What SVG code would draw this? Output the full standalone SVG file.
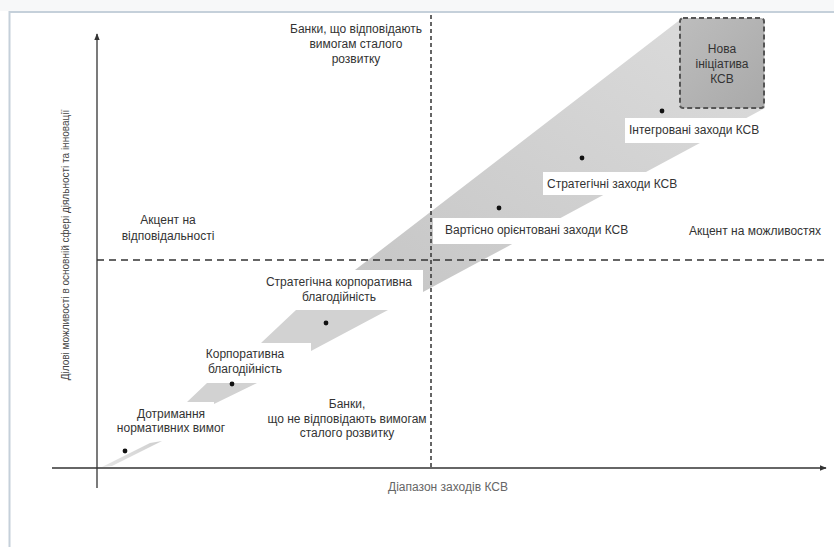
<svg xmlns="http://www.w3.org/2000/svg" width="834" height="547" viewBox="0 0 834 547">
<defs>
<style>
text{font-family:"Liberation Sans",Arial,sans-serif;fill:#333;font-size:12px}
.c{text-anchor:middle}
.ax{stroke:#333;stroke-width:1.3;fill:none}
.dash{stroke:#333;stroke-width:1.5;fill:none}
.shape{fill:#d2d2d2}
.lbl{fill:#fff}
.dot{fill:#111}
</style>
<linearGradient id="band" x1="0" y1="1" x2="1" y2="0">
<stop offset="0" stop-color="#c6c6c6"/>
<stop offset="1" stop-color="#dcdcdc"/>
</linearGradient>
<linearGradient id="boxg" x1="0" y1="0" x2="1" y2="1">
<stop offset="0" stop-color="#bdbdbd"/>
<stop offset="1" stop-color="#a9a9a9"/>
</linearGradient>
<linearGradient id="sliver" x1="0" y1="1" x2="1" y2="0">
<stop offset="0" stop-color="#e6e6e6"/>
<stop offset="1" stop-color="#cfcfcf"/>
</linearGradient>
<marker id="arr" viewBox="0 0 10 10" refX="9" refY="5" markerWidth="7" markerHeight="7" orient="auto" markerUnits="userSpaceOnUse">
<path d="M0,1 L10,5 L0,9 Z" fill="#333"/>
</marker>
</defs>
<rect width="834" height="547" fill="#fff"/>
<rect x="0" y="0" width="834" height="11" fill="#f7f8f9"/>
<path d="M834,12 H9.5 V547" fill="none" stroke="#c5d0da" stroke-width="2"/>

<g id="shapes">
<polygon id="band-main" fill="url(#band)" points="355,270 681,19 765,19 765,108 423,292 423,270"/>
<polygon id="shape-strategic-philanthropy" class="shape" points="296,310 388,310 311,351 311,343 261,343"/>
<polygon id="shape-corporate-philanthropy" class="shape" points="207,383 257,383 214,404 214,402 187,402"/>
<polygon id="shape-compliance" fill="url(#sliver)" points="102,467 150,443 162,441 112,466"/>
</g>

<g id="connectors">
<line class="ax" x1="97" y1="488" x2="97" y2="34" marker-end="url(#arr)"/>
<line class="ax" x1="52" y1="468" x2="826" y2="468" marker-end="url(#arr)"/>
<line class="dash" x1="431" y1="15" x2="431" y2="469" stroke-dasharray="4,3"/>
<line class="dash" x1="97" y1="260" x2="824" y2="260" stroke-dasharray="7,5"/>
</g>

<g id="node-new-initiative">
<rect x="680" y="18" width="84" height="90" rx="3" fill="url(#boxg)" stroke="#555" stroke-width="2" stroke-dasharray="5,3"/>
<text class="c" x="722" y="53">Нова</text>
<text class="c" x="722" y="68">ініціатива</text>
<text class="c" x="722" y="83">КСВ</text>
</g>

<g id="node-integrated">
<rect class="lbl" x="625" y="118" width="145" height="25"/>
<circle class="dot" cx="662" cy="111" r="2.4"/>
<text x="629" y="134">Інтегровані заходи КСВ</text>
</g>

<g id="node-strategic">
<rect class="lbl" x="543" y="172" width="146" height="23"/>
<circle class="dot" cx="582" cy="158" r="2.4"/>
<text x="547" y="188">Стратегічні заходи КСВ</text>
</g>

<g id="node-value">
<rect class="lbl" x="433" y="218" width="211" height="26"/>
<circle class="dot" cx="499" cy="208" r="2.4"/>
<text x="445" y="234">Вартісно орієнтовані заходи КСВ</text>
</g>

<g id="node-strategic-philanthropy">
<circle class="dot" cx="326" cy="323" r="2.4"/>
<text class="c" x="339" y="286">Стратегічна корпоративна</text>
<text class="c" x="339" y="301">благодійність</text>
</g>

<g id="node-corporate-philanthropy">
<circle class="dot" cx="232" cy="384" r="2.4"/>
<text class="c" x="245" y="358">Корпоративна</text>
<text class="c" x="245" y="373">благодійність</text>
</g>

<g id="node-compliance">
<circle class="dot" cx="125" cy="451" r="2.4"/>
<text class="c" x="171" y="418">Дотримання</text>
<text class="c" x="171" y="432">нормативних вимог</text>
</g>

<g id="labels">
<text class="c" x="356" y="33">Банки, що відповідають</text>
<text class="c" x="356" y="48">вимогам сталого</text>
<text class="c" x="356" y="63">розвитку</text>
<text class="c" x="168" y="224">Акцент на</text>
<text class="c" x="168" y="240">відповідальності</text>
<text class="c" x="755" y="235">Акцент на можливостях</text>
<text class="c" x="347" y="408">Банки,</text>
<text class="c" x="347" y="423">що не відповідають вимогам</text>
<text class="c" x="347" y="437">сталого розвитку</text>
<text class="c" x="448" y="491" style="fill:#666">Діапазон заходів КСВ</text>
<text class="c" transform="translate(69,245) rotate(-90)" style="font-size:10px;fill:#444">Ділові можливості в основній сфері діяльності та інновації</text>
</g>
</svg>
